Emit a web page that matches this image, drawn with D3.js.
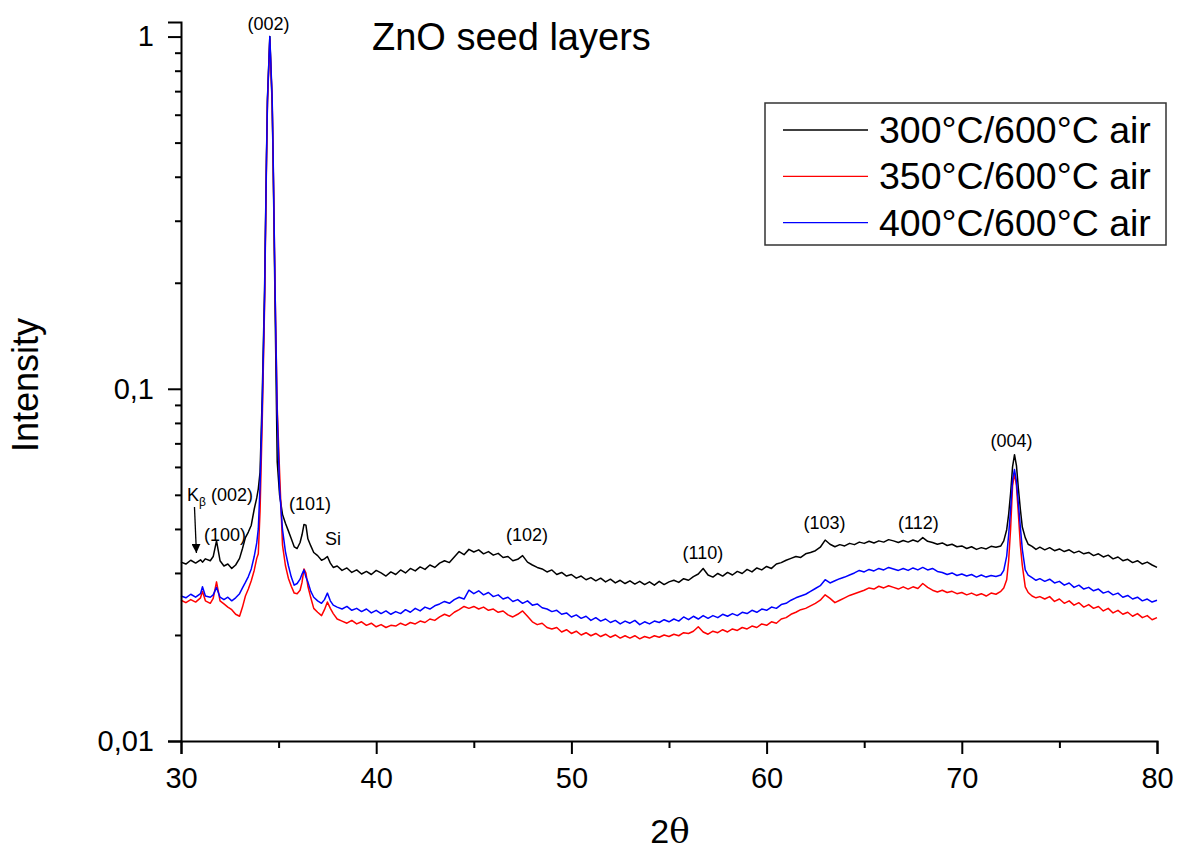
<!DOCTYPE html>
<html>
<head>
<meta charset="utf-8">
<script src="https://cdn.jsdelivr.net/npm/d3@7"></script>
<style>
  body { margin: 0; background: #fff; }
  svg text { font-family: "Liberation Sans", Arial, sans-serif; fill: #000; }
</style>
</head>
<body>
<div id="chart"></div>
<script>
const width = 1177;
const height = 855;

// 2theta sampling positions (deg)
const twoTheta = [
  30, 30.25, 30.5, 30.75, 31, 31.1, 31.25, 31.5, 31.65, 31.82, 32, 32.2, 32.4, 32.6, 32.8, 33, 33.15, 33.3, 33.45, 33.6, 33.75, 33.88,
  33.96, 34.05, 34.16, 34.28, 34.38, 34.43, 34.55, 34.67, 34.72, 34.82, 34.93,
  35.05, 35.2, 35.35, 35.5, 35.65, 35.8, 35.95, 36.1, 36.2, 36.3, 36.4, 36.5, 36.65, 36.8, 37, 37.2, 37.35, 37.5, 37.65, 37.8, 38,
  38.25, 38.5, 38.75,
  39, 39.25, 39.5, 39.75,
  40, 40.25, 40.5, 40.75,
  41, 41.25, 41.5, 41.75,
  42, 42.25, 42.5, 42.75,
  43, 43.25, 43.5, 43.75,
  44, 44.25, 44.5, 44.75,
  45, 45.25, 45.5, 45.75,
  46, 46.25, 46.5, 46.75,
  47, 47.25, 47.5, 47.75,
  48, 48.25, 48.5, 48.75,
  49, 49.25, 49.5, 49.75,
  50, 50.25, 50.5, 50.75,
  51, 51.25, 51.5, 51.75,
  52, 52.25, 52.5, 52.75,
  53, 53.25, 53.5, 53.75,
  54, 54.25, 54.5, 54.75,
  55, 55.25, 55.5, 55.75,
  56, 56.25, 56.5, 56.75,
  57, 57.25, 57.5, 57.75,
  58, 58.25, 58.5, 58.75,
  59, 59.25, 59.5, 59.75,
  60, 60.25, 60.5, 60.75,
  61, 61.25, 61.5, 61.75,
  62, 62.25, 62.5, 62.75,
  63, 63.25, 63.5, 63.75,
  64, 64.25, 64.5, 64.75,
  65, 65.25, 65.5, 65.75,
  66, 66.25, 66.5, 66.75,
  67, 67.25, 67.5, 67.75,
  68, 68.25, 68.5, 68.75,
  69, 69.25, 69.5, 69.75,
  70, 70.25, 70.5, 70.75,
  71, 71.25, 71.5, 71.75,
  72, 72.15, 72.3, 72.4, 72.5, 72.6, 72.7, 72.8, 72.9, 73, 73.1, 73.25, 73.4, 73.6, 73.8, 74,
  74.25, 74.5, 74.75, 75, 75.25, 75.5, 75.75, 76, 76.25, 76.5, 76.75, 77, 77.25, 77.5, 77.75, 78,
  78.25, 78.5, 78.75, 79, 79.25, 79.5, 79.75, 80
];

// 300°C/600°C air
const int300 = [
  0.0322, 0.0318, 0.0326, 0.0320, 0.0327, 0.0322, 0.0329, 0.0325, 0.0334, 0.0370, 0.0325, 0.0314, 0.0318, 0.0309, 0.0316, 0.0330, 0.0352, 0.0378, 0.0392, 0.0410, 0.0455, 0.0490,
  0.052, 0.058, 0.095, 0.19, 0.46, 0.67, 1.0, 0.64, 0.44, 0.17, 0.062,
  0.0500, 0.0440, 0.0415, 0.0395, 0.0375, 0.0356, 0.0352, 0.0366, 0.0385, 0.0412, 0.0410, 0.0375, 0.0358, 0.0343, 0.0336, 0.0326, 0.0329, 0.0334, 0.0320, 0.0311, 0.0314,
  0.0305, 0.0310, 0.0301,
  0.0306, 0.0298, 0.0303, 0.0297,
  0.0305, 0.0300, 0.0294, 0.0302,
  0.0297, 0.0306, 0.0300, 0.0309,
  0.0304, 0.0312, 0.0307, 0.0316,
  0.0311, 0.0320, 0.0325, 0.0321,
  0.0333, 0.0345, 0.0338, 0.0350,
  0.0344, 0.0349, 0.0340, 0.0345,
  0.0337, 0.0341, 0.0332, 0.0334,
  0.0325, 0.0328, 0.0336, 0.0322,
  0.0316, 0.0311, 0.0308, 0.0302,
  0.0306, 0.0297, 0.0301, 0.0294,
  0.0297, 0.0290, 0.0294, 0.0287,
  0.0291, 0.0285, 0.0290, 0.0283,
  0.0288, 0.0281, 0.0286, 0.0280,
  0.0285, 0.0279, 0.0284, 0.0278,
  0.0283, 0.0277, 0.0284, 0.0278,
  0.0283, 0.0286, 0.0282, 0.0289,
  0.0286, 0.0293, 0.0298, 0.0309,
  0.0296, 0.0292, 0.0299, 0.0294,
  0.0301, 0.0296, 0.0303, 0.0299,
  0.0307, 0.0302, 0.0310, 0.0306,
  0.0313, 0.0309, 0.0318, 0.0321,
  0.0326, 0.0330, 0.0334, 0.0332,
  0.0340, 0.0343, 0.0347, 0.0355,
  0.0372, 0.0362, 0.0356, 0.0361,
  0.0358, 0.0364, 0.0361, 0.0367,
  0.0364, 0.0369, 0.0365, 0.0370,
  0.0367, 0.0373, 0.0370, 0.0366,
  0.0371, 0.0367, 0.0372, 0.0368,
  0.0378, 0.0369, 0.0366, 0.0362,
  0.0365, 0.0359, 0.0362, 0.0356,
  0.0358, 0.0352, 0.0356, 0.0350,
  0.0354, 0.0351, 0.0357, 0.0355,
  0.0358, 0.0370, 0.0398, 0.0440, 0.0505, 0.0600, 0.0650, 0.0605, 0.0520, 0.0455, 0.0405, 0.0378, 0.0362, 0.0357, 0.0350, 0.0355,
  0.0349, 0.0354, 0.0347, 0.0351, 0.0345, 0.0349, 0.0342, 0.0346, 0.0340, 0.0343, 0.0336, 0.0340, 0.0333, 0.0337, 0.0329, 0.0333,
  0.0325, 0.0328, 0.0321, 0.0325, 0.0318, 0.0322, 0.0316, 0.0311
];

// 350°C/600°C air
const int350 = [
  0.0251, 0.0247, 0.0252, 0.0248, 0.0255, 0.0266, 0.0250, 0.0246, 0.0254, 0.0283, 0.0250, 0.0245, 0.0240, 0.0236, 0.0229, 0.0226, 0.0240, 0.0258, 0.0270, 0.0285, 0.0305, 0.0330,
  0.034, 0.045, 0.080, 0.17, 0.44, 0.65, 0.98, 0.66, 0.45, 0.19, 0.088,
  0.0580, 0.0360, 0.0315, 0.0290, 0.0275, 0.0263, 0.0262, 0.0268, 0.0282, 0.0308, 0.0300, 0.0275, 0.0255, 0.0238, 0.0232, 0.0227, 0.0236, 0.0248, 0.0238, 0.0230, 0.0222,
  0.0219, 0.0216, 0.0220,
  0.0215, 0.0218, 0.0213, 0.0216,
  0.0211, 0.0214, 0.0210, 0.0213,
  0.0212, 0.0216, 0.0213, 0.0217,
  0.0215, 0.0219, 0.0217, 0.0222,
  0.0220, 0.0225, 0.0229, 0.0226,
  0.0232, 0.0236, 0.0241, 0.0238,
  0.0241, 0.0237, 0.0240, 0.0235,
  0.0237, 0.0232, 0.0234, 0.0228,
  0.0225, 0.0229, 0.0234, 0.0226,
  0.0218, 0.0214, 0.0216, 0.0210,
  0.0208, 0.0210, 0.0204, 0.0207,
  0.0202, 0.0205, 0.0200, 0.0203,
  0.0199, 0.0202, 0.0198, 0.0201,
  0.0197, 0.0200, 0.0196, 0.0199,
  0.0196, 0.0199, 0.0195, 0.0198,
  0.0196, 0.0199, 0.0197, 0.0200,
  0.0198, 0.0201, 0.0199, 0.0203,
  0.0202, 0.0205, 0.0211, 0.0204,
  0.0201, 0.0205, 0.0203, 0.0207,
  0.0204, 0.0208, 0.0206, 0.0210,
  0.0208, 0.0212, 0.0210, 0.0215,
  0.0213, 0.0218, 0.0216, 0.0222,
  0.0224, 0.0229, 0.0232, 0.0236,
  0.0238, 0.0242, 0.0246, 0.0251,
  0.0260, 0.0254, 0.0247, 0.0251,
  0.0255, 0.0259, 0.0262, 0.0265,
  0.0268, 0.0272, 0.0270, 0.0275,
  0.0272, 0.0276, 0.0273, 0.0270,
  0.0274, 0.0270, 0.0274, 0.0271,
  0.0280, 0.0273, 0.0268, 0.0265,
  0.0268, 0.0264, 0.0266, 0.0262,
  0.0264, 0.0260, 0.0263, 0.0259,
  0.0262, 0.0258, 0.0263, 0.0261,
  0.0266, 0.0272, 0.0287, 0.0325, 0.0400, 0.0530, 0.0575, 0.0530, 0.0440, 0.0360, 0.0315, 0.0274, 0.0264, 0.0258, 0.0255, 0.0257,
  0.0253, 0.0257, 0.0249, 0.0253, 0.0246, 0.0250, 0.0243, 0.0247, 0.0240, 0.0244, 0.0238, 0.0241, 0.0234, 0.0238, 0.0231, 0.0235,
  0.0229, 0.0232, 0.0226, 0.0230, 0.0224, 0.0227, 0.0221, 0.0224
];

// 400°C/600°C air
const int400 = [
  0.0258, 0.0255, 0.0261, 0.0256, 0.0262, 0.0274, 0.0258, 0.0256, 0.0260, 0.0273, 0.0256, 0.0252, 0.0256, 0.0250, 0.0255, 0.0262, 0.0272, 0.0282, 0.0293, 0.0308, 0.0334, 0.0365,
  0.040, 0.053, 0.088, 0.18, 0.45, 0.66, 1.0, 0.67, 0.46, 0.19, 0.085,
  0.0520, 0.0398, 0.0345, 0.0315, 0.0292, 0.0277, 0.0280, 0.0288, 0.0298, 0.0306, 0.0292, 0.0283, 0.0266, 0.0256, 0.0250, 0.0246, 0.0252, 0.0263, 0.0250, 0.0243, 0.0240,
  0.0237, 0.0241, 0.0235,
  0.0238, 0.0233, 0.0237, 0.0231,
  0.0235, 0.0230, 0.0234, 0.0229,
  0.0233, 0.0230, 0.0236, 0.0232,
  0.0238, 0.0234, 0.0240, 0.0237,
  0.0242, 0.0245, 0.0249, 0.0246,
  0.0252, 0.0256, 0.0253, 0.0268,
  0.0262, 0.0267, 0.0260, 0.0264,
  0.0257, 0.0260, 0.0253, 0.0256,
  0.0249, 0.0252, 0.0246, 0.0250,
  0.0243, 0.0245, 0.0239, 0.0237,
  0.0233, 0.0235, 0.0229, 0.0231,
  0.0225, 0.0228, 0.0223, 0.0226,
  0.0220, 0.0224, 0.0219, 0.0222,
  0.0217, 0.0220, 0.0215, 0.0219,
  0.0216, 0.0220, 0.0214, 0.0218,
  0.0215, 0.0219, 0.0217, 0.0221,
  0.0218, 0.0222, 0.0219, 0.0225,
  0.0221, 0.0226, 0.0222, 0.0227,
  0.0223, 0.0227, 0.0224, 0.0229,
  0.0226, 0.0230, 0.0227, 0.0232,
  0.0230, 0.0235, 0.0232, 0.0237,
  0.0235, 0.0240, 0.0238, 0.0244,
  0.0246, 0.0251, 0.0255, 0.0258,
  0.0261, 0.0266, 0.0271, 0.0276,
  0.0287, 0.0281, 0.0285, 0.0289,
  0.0292, 0.0296, 0.0300, 0.0305,
  0.0302, 0.0307, 0.0304, 0.0309,
  0.0306, 0.0311, 0.0308, 0.0305,
  0.0309, 0.0305, 0.0310, 0.0306,
  0.0311, 0.0306, 0.0309, 0.0303,
  0.0301, 0.0297, 0.0300, 0.0295,
  0.0298, 0.0294, 0.0297, 0.0292,
  0.0296, 0.0292, 0.0295, 0.0293,
  0.0296, 0.0305, 0.0335, 0.0385, 0.0455, 0.0551, 0.0590, 0.0545, 0.0470, 0.0405, 0.0350, 0.0306, 0.0296, 0.0291, 0.0286, 0.0289,
  0.0284, 0.0288, 0.0281, 0.0284, 0.0277, 0.0281, 0.0273, 0.0277, 0.0270, 0.0273, 0.0267, 0.0270, 0.0263, 0.0266, 0.0260, 0.0263,
  0.0256, 0.0259, 0.0253, 0.0256, 0.0250, 0.0253, 0.0248, 0.0251
];

const seriesNames = ["300°C/600°C air", "350°C/600°C air", "400°C/600°C air"];
const seriesColors = ["#000000", "#ff0000", "#0000ff"];
const xTicks = [30, 40, 50, 60, 70, 80];
const xMinorTicks = [35, 45, 55, 65, 75];
const yTicks = [0.01, 0.1, 1];
const yMinorTicks = [0.02, 0.03, 0.04, 0.05, 0.06, 0.07, 0.08, 0.09, 0.2, 0.3, 0.4, 0.5, 0.6, 0.7, 0.8, 0.9];

// peak labels: [text, 2theta, intensity at baseline]
const peakLabels = [
  ["(002)", 34.48, 1.047],
  ["(100)", 32.25, 0.0370],
  ["(101)", 36.61, 0.0453],
  ["Si", 37.79, 0.0360],
  ["(102)", 47.73, 0.0370],
  ["(110)", 56.74, 0.0329],
  ["(103)", 62.97, 0.0400],
  ["(112)", 67.78, 0.0400],
  ["(004)", 72.55, 0.0684]
];

(function main(){
  const svg = d3.select("#chart")
    .append("svg")
    .attr("width", width)
    .attr("height", height);

  const x = d3.scaleLinear()
    .domain([30, 80])
    .range([181, 1157]);

  const y = d3.scaleLog()
    .domain([0.01, 1.1])
    .range([741, 22]);

  const line = d3.line()
    .x((d, i) => x(twoTheta[i]))
    .y(d => y(d));

  const allSeries = [int300, int350, int400];
  allSeries.forEach((s, k) => {
    svg.append("path")
      .datum(s)
      .attr("fill", "none")
      .attr("stroke", seriesColors[k])
      .attr("stroke-width", 1.5)
      .attr("stroke-linejoin", "round")
      .attr("d", line);
  });

  // axes
  svg.append("g")
    .attr("transform", `translate(0, 741)`)
    .call(d3.axisBottom(x).tickValues(xTicks).tickSize(13).tickPadding(13).tickFormat(d3.format("d")));
  svg.append("g")
    .attr("transform", `translate(0, 741)`)
    .call(d3.axisBottom(x).tickValues(xMinorTicks).tickSize(7).tickFormat(""))
    .select(".domain").remove();

  svg.append("g")
    .attr("transform", `translate(181, 0)`)
    .call(d3.axisLeft(y).tickValues(yTicks).tickSize(13).tickPadding(14)
      .tickFormat(d => String(d).replace(".", ",")));
  svg.append("g")
    .attr("transform", `translate(181, 0)`)
    .call(d3.axisLeft(y).tickValues(yMinorTicks).tickSize(6).tickFormat(""))
    .select(".domain").remove();

  svg.selectAll(".domain").attr("stroke", "#000").attr("stroke-width", 2);
  svg.selectAll(".tick line").attr("stroke", "#000").attr("stroke-width", 2);
  svg.selectAll(".tick text")
    .style("font-family", "'Liberation Sans', Arial, sans-serif")
    .style("font-size", "29px")
    .attr("fill", "#000");

  // axis titles
  svg.append("text")
    .attr("x", 670)
    .attr("y", 843)
    .attr("text-anchor", "middle")
    .style("font-size", "34px")
    .html('2<tspan style="font-family: \'DejaVu Serif\', \'Liberation Serif\', serif">θ</tspan>');

  svg.append("text")
    .attr("transform", "translate(38, 385) rotate(-90)")
    .attr("text-anchor", "middle")
    .style("font-size", "36px")
    .text("Intensity");

  svg.append("text")
    .attr("x", 372)
    .attr("y", 50)
    .style("font-size", "38px")
    .text("ZnO seed layers");

  // peak annotations
  svg.selectAll(".peak")
    .data(peakLabels)
    .enter().append("text")
    .attr("class", "peak")
    .attr("x", d => x(d[1]))
    .attr("y", d => y(d[2]))
    .attr("text-anchor", "middle")
    .style("font-size", "18px")
    .text(d => d[0]);

  // K-beta note with arrow
  const kb = svg.append("text")
    .attr("x", x(30.31))
    .attr("y", y(0.0481))
    .style("font-size", "18px");
  kb.append("tspan").text("K");
  kb.append("tspan").attr("dy", 5).style("font-size", "12px").text("β");
  kb.append("tspan").attr("dy", -5).text(" (002)");

  svg.append("defs").append("marker")
    .attr("id", "arrow")
    .attr("viewBox", "0 0 10 10")
    .attr("refX", 10).attr("refY", 5)
    .attr("markerWidth", 9).attr("markerHeight", 9)
    .attr("markerUnits", "userSpaceOnUse")
    .attr("orient", "auto")
    .append("path")
    .attr("d", "M0,0 L10,5 L0,10 z")
    .attr("fill", "#000");

  svg.append("line")
    .attr("x1", x(30.69)).attr("y1", y(0.0462))
    .attr("x2", x(30.79)).attr("y2", y(0.0342))
    .attr("stroke", "#000")
    .attr("stroke-width", 1.3)
    .attr("marker-end", "url(#arrow)");

  // legend
  const legend = svg.append("g");
  legend.append("rect")
    .attr("x", 765).attr("y", 103)
    .attr("width", 401).attr("height", 142)
    .attr("fill", "#fff")
    .attr("stroke", "#333")
    .attr("stroke-width", 1.5);

  seriesNames.forEach((name, k) => {
    const ly = 130 + k * 46.3;
    legend.append("line")
      .attr("x1", 783).attr("x2", 868)
      .attr("y1", ly).attr("y2", ly)
      .attr("stroke", seriesColors[k])
      .attr("stroke-width", 1.3);
    legend.append("text")
      .attr("x", 879)
      .attr("y", ly + 13)
      .style("font-size", "37.5px")
      .text(name);
  });
})();
</script>
</body>
</html>
